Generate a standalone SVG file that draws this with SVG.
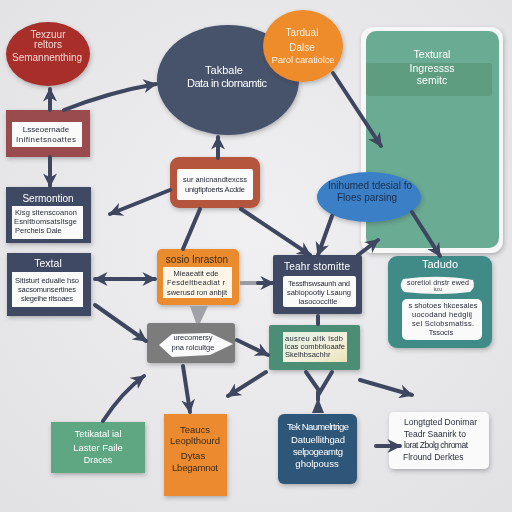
<svg xmlns="http://www.w3.org/2000/svg" width="512" height="512" viewBox="0 0 512 512">
<defs>
<radialGradient id="bg" cx="50%" cy="45%" r="70%"><stop offset="0" stop-color="#f0f0f2"/><stop offset="1" stop-color="#e2e2e5"/></radialGradient>
<linearGradient id="gg" x1="0" y1="0" x2="1" y2="1"><stop offset="0" stop-color="#dff0e2"/><stop offset="0.6" stop-color="#f4f1dc"/><stop offset="1" stop-color="#e9e2b8"/></linearGradient>
<filter id="sh" x="-20%" y="-20%" width="140%" height="150%"><feDropShadow dx="1" dy="2" stdDeviation="2" flood-color="#333" flood-opacity="0.3"/></filter>
<marker id="ah" viewBox="0 0 10 10" refX="9" refY="5" markerWidth="14" markerHeight="14" markerUnits="userSpaceOnUse" orient="auto-start-reverse"><path d="M0,0 L10,5 L0,10 L3,5 z" fill="#3e4660"/></marker>
</defs>
<style>
.c{fill:none;stroke:#3e4660;stroke-width:4;stroke-linecap:round}
.cl{fill:none;stroke:#9a9ca3;stroke-width:4}
.t{font-family:"Liberation Sans",Arial,sans-serif;text-anchor:middle}
.l{font-family:"Liberation Sans",Arial,sans-serif;text-anchor:start}
.w{fill:#ffffff}
.d{fill:#2a2e3a}
</style>
<rect width="512" height="512" fill="url(#bg)"/>

<g id="green-card" filter="url(#sh)">
<rect x="361" y="27" width="142" height="226" rx="12" fill="#f7f7f7"/>
<rect x="366" y="31" width="133" height="217" rx="10" fill="#6aab93"/>
<rect x="366" y="63" width="126" height="33" rx="3" fill="#5e9d81"/>
<text class="t w" x="432" y="58" font-size="10.5">Textural</text>
<text class="t w" x="432" y="72" font-size="10.5">Ingressss</text>
<text class="t w" x="432" y="84" font-size="10.5">semitc</text>
</g>

<g id="red-ellipse" filter="url(#sh)">
<ellipse cx="48" cy="54" rx="42" ry="32" fill="#a82f2c"/>
<text class="t" fill="#f5d9d4" x="48" y="38" font-size="10">Texzuur</text>
<text class="t" fill="#f5d9d4" x="48" y="48" font-size="10">reltors</text>
<text class="t" fill="#f5d9d4" x="47" y="61" font-size="10" textLength="70">Semannenthing</text>
</g>

<g id="red-box" filter="url(#sh)">
<rect x="6" y="110" width="84" height="47" fill="#9a4c4e"/>
<rect x="12" y="122" width="70" height="25" fill="#fafafa"/>
<text class="t d" x="46" y="132" font-size="8">Lsseoernade</text>
<text class="t d" x="46" y="142" font-size="8" textLength="60">Inifinetsnoattes</text>
</g>

<g id="navy-ellipse" filter="url(#sh)">
<ellipse cx="228" cy="80" rx="71" ry="55" fill="#47526b"/>
<text class="t w" x="224" y="74" font-size="11">Takbale</text>
<text class="t w" x="227" y="87" font-size="11" textLength="80">Data in clornamtic</text>
</g>

<g id="orange-circle" filter="url(#sh)">
<ellipse cx="303" cy="46" rx="40" ry="36" fill="#ee8b2b"/>
<text class="t" fill="#fff1e2" x="302" y="36" font-size="10">Tardual</text>
<text class="t" fill="#fff1e2" x="302" y="51" font-size="10">Dalse</text>
<text class="t" fill="#fff1e2" x="303" y="63" font-size="9.5" textLength="63">Parol caratiolce</text>
</g>

<g id="blue-ellipse" filter="url(#sh)">
<ellipse cx="369" cy="197" rx="52" ry="25" fill="#3a80c6"/>
<text class="t" fill="#1c2c4c" x="370" y="189" font-size="10" textLength="84">Inihumed tdesial fo</text>
<text class="t" fill="#1c2c4c" x="367" y="201" font-size="10">Floes parsing</text>
</g>

<g id="rust-box" filter="url(#sh)">
<rect x="170" y="157" width="90" height="51" rx="9" fill="#b4553c"/>
<rect x="177" y="169" width="76" height="31" rx="2" fill="#fafafa"/>
<text class="t d" x="215" y="182" font-size="7.5" textLength="64">sur anicnandtexcss</text>
<text class="t d" x="215" y="192" font-size="7.5" textLength="60">unigfipfoerts Acdde</text>
</g>

<g id="sermontion-box" filter="url(#sh)">
<rect x="6" y="187" width="85" height="56" fill="#3f4a63"/>
<text class="t w" x="48" y="202" font-size="10">Sermontion</text>
<rect x="12" y="206" width="71" height="33" fill="#fafafa"/>
<text class="l d" x="15" y="215" font-size="7.5" textLength="62">Kisg sltenscoanon</text>
<text class="l d" x="14" y="224" font-size="7.5" textLength="63">Esnitbomsatsitsge</text>
<text class="l d" x="15" y="233" font-size="7.5">Percheis Dale</text>
</g>

<g id="textal-box" filter="url(#sh)">
<rect x="7" y="253" width="84" height="63" fill="#3f4a63"/>
<text class="t w" x="48" y="267" font-size="10.5">Textal</text>
<rect x="12" y="272" width="71" height="35" fill="#fafafa"/>
<text class="t d" x="47" y="283" font-size="7.5" textLength="64">Sitisturt eduaile hso</text>
<text class="t d" x="47" y="292" font-size="7.5" textLength="58">sacsomunsertines</text>
<text class="t d" x="47" y="301" font-size="7.5" textLength="52">slegeihe ritsoaes</text>
</g>

<g id="orange-box" filter="url(#sh)">
<rect x="157" y="249" width="82" height="56" rx="5" fill="#ea8b2e"/>
<text class="t" fill="#3a2a1a" x="197" y="263" font-size="10">sosio Inraston</text>
<rect x="163" y="267" width="69" height="31" fill="#fdf6e8"/>
<text class="t d" x="196" y="276" font-size="7.5">Mieaeatit ede</text>
<text class="t d" x="196" y="285" font-size="7.5" textLength="58">Fesdeltbeadiat r</text>
<text class="t d" x="197" y="295" font-size="7.5" textLength="60">swerusd ron anbjit</text>
</g>

<g id="teahm-box" filter="url(#sh)">
<rect x="273" y="255" width="89" height="59" rx="2" fill="#3f4a63"/>
<text class="t w" x="317" y="270" font-size="10" textLength="66">Teahr stomitte</text>
<rect x="283" y="276" width="73" height="31" rx="2" fill="#fafafa"/>
<text class="t d" x="319" y="286" font-size="7.5" textLength="62">Tessfhswsaunh and</text>
<text class="t d" x="319" y="295" font-size="7.5" textLength="64">sabiopootiy Lsaung</text>
<text class="t d" x="318" y="304" font-size="7.5">lasococcltle</text>
</g>

<g id="tadudo-box" filter="url(#sh)">
<rect x="388" y="256" width="104" height="92" rx="9" fill="#3f8b88"/>
<text class="t w" x="440" y="268" font-size="11">Tadudo</text>
<path d="M403,279 Q440,274 473,280 Q476,287 470,292 Q440,296 404,292 Q398,286 403,279 z" fill="#f7f7f5"/>
<text class="t d" x="438" y="285" font-size="7" textLength="62">soretiol dnstr ewed</text>
<text class="t d" x="438" y="291" font-size="5">iu:u</text>
<rect x="402" y="299" width="80" height="41" rx="5" fill="#fafafa"/>
<text class="t d" x="443" y="308" font-size="7.5" textLength="69">s shotoes hkcesaies</text>
<text class="t d" x="442" y="317" font-size="7.5" textLength="60">uocodand hedglij</text>
<text class="t d" x="443" y="326" font-size="7.5" textLength="62">sel Sciobsmatiss.</text>
<text class="t d" x="441" y="335" font-size="7.5">Tssocis</text>
</g>

<g id="gray-box" filter="url(#sh)">
<rect x="147" y="323" width="88" height="40" rx="3" fill="#7b7b7d"/>
<path d="M159,345 L172,334 L210,333 L233,344 L210,355 L172,357 z" fill="#fafafa"/>
<text class="t d" x="193" y="340" font-size="7.5">urecomersy</text>
<text class="t d" x="193" y="350" font-size="7.5">pna rolcultge</text>
</g>

<g id="green-grad-box" filter="url(#sh)">
<rect x="269" y="325" width="91" height="45" rx="2" fill="#4c8d74"/>
<rect x="283" y="332" width="64" height="30" fill="url(#gg)"/>
<text class="l d" x="285" y="341" font-size="7.5" textLength="58">ausreu altk lsdb</text>
<text class="l d" x="285" y="349" font-size="7.5" textLength="60">lcas combbiloaafe</text>
<text class="l d" x="285" y="357" font-size="7.5">Skelhbsachhr</text>
</g>

<g id="green-box" filter="url(#sh)">
<rect x="51" y="422" width="94" height="51" fill="#5fa783"/>
<text class="t w" x="98" y="437" font-size="9.5">Tetikatal ial</text>
<text class="t w" x="98" y="451" font-size="9.5">Laster Faile</text>
<text class="t w" x="98" y="463" font-size="9">Draces</text>
</g>

<g id="orange-tall-box" filter="url(#sh)">
<rect x="164" y="414" width="63" height="82" fill="#eb8a2d"/>
<text class="t" fill="#3a2a1a" x="195" y="433" font-size="9.5">Teaucs</text>
<text class="t" fill="#3a2a1a" x="195" y="444" font-size="9.5" textLength="50">Leoplthourd</text>
<text class="t" fill="#3a2a1a" x="193" y="459" font-size="9.5">Dytas</text>
<text class="t" fill="#3a2a1a" x="195" y="471" font-size="9.5" textLength="46">Lbegamnot</text>
</g>

<g id="blue-box" filter="url(#sh)">
<rect x="278" y="414" width="79" height="70" rx="6" fill="#2f5679"/>
<text class="t w" x="318" y="430" font-size="9.5" textLength="62">Tek Naumelrtrige</text>
<text class="t w" x="318" y="443" font-size="9.5" textLength="54">Datuellithgad</text>
<text class="t w" x="318" y="455" font-size="9.5" textLength="50">selpogeamtg</text>
<text class="t w" x="317" y="467" font-size="9.5">gholpouss</text>
</g>

<g id="white-box" filter="url(#sh)">
<rect x="389" y="412" width="100" height="57" rx="5" fill="#fafafa"/>
<text class="l d" x="404" y="425" font-size="8.5" textLength="73">Longtgted Donimar</text>
<text class="l d" x="404" y="437" font-size="8.5">Teadr Saanirk to</text>
<text class="l d" x="404" y="448" font-size="8.5" textLength="64">lorat Zbolg chromat</text>
<text class="l d" x="403" y="460" font-size="8.5">Flround Derktes</text>
</g>

<g id="connectors">
<path class="c" d="M50,110 L50,89" marker-end="url(#ah)"/>
<path class="c" d="M64,110 Q110,92 156,84" marker-end="url(#ah)"/>
<path class="c" d="M50,157 L50,186" marker-end="url(#ah)"/>
<path class="c" d="M218,158 L218,137" marker-end="url(#ah)"/>
<path class="c" d="M170,190 L110,214" marker-end="url(#ah)"/>
<path class="c" d="M200,209 L183,249"/>
<path class="c" d="M241,209 L310,255" marker-end="url(#ah)"/>
<path class="c" d="M332,216 L318,255" marker-end="url(#ah)"/>
<path class="c" d="M358,255 L378,240" marker-end="url(#ah)"/>
<path class="c" d="M333,73 L381,146" marker-end="url(#ah)"/>
<path class="c" d="M412,212 L440,256" marker-end="url(#ah)"/>
<path class="c" d="M95,279 L155,279" marker-start="url(#ah)" marker-end="url(#ah)"/>
<path class="cl" d="M240,283 L260,283"/>
<path class="c" d="M258,283 L273,283" marker-end="url(#ah)"/>
<path class="c" d="M95,305 L146,341" marker-end="url(#ah)"/>
<path d="M190,306 L208,306 L200,323 L196,323 z" fill="#a0a2a8"/>
<path class="c" d="M183,366 L190,412" marker-end="url(#ah)"/>
<path class="c" d="M103,421 Q122,392 144,376" marker-end="url(#ah)"/>
<path class="c" d="M266,372 L228,396" marker-end="url(#ah)"/>
<path class="c" d="M237,340 L268,355" marker-end="url(#ah)"/>
<path class="c" d="M318,316 L318,324"/>
<path class="c" d="M306,372 L320,392 L332,372"/>
<path class="c" d="M318,392 L318,400"/>
<path d="M312,413 L318,398 L324,413 z" fill="#3e4660"/>
<path class="c" d="M360,380 L412,395" marker-end="url(#ah)"/>
<path class="c" d="M376,446 L400,446" marker-end="url(#ah)"/>
</g>
</svg>
